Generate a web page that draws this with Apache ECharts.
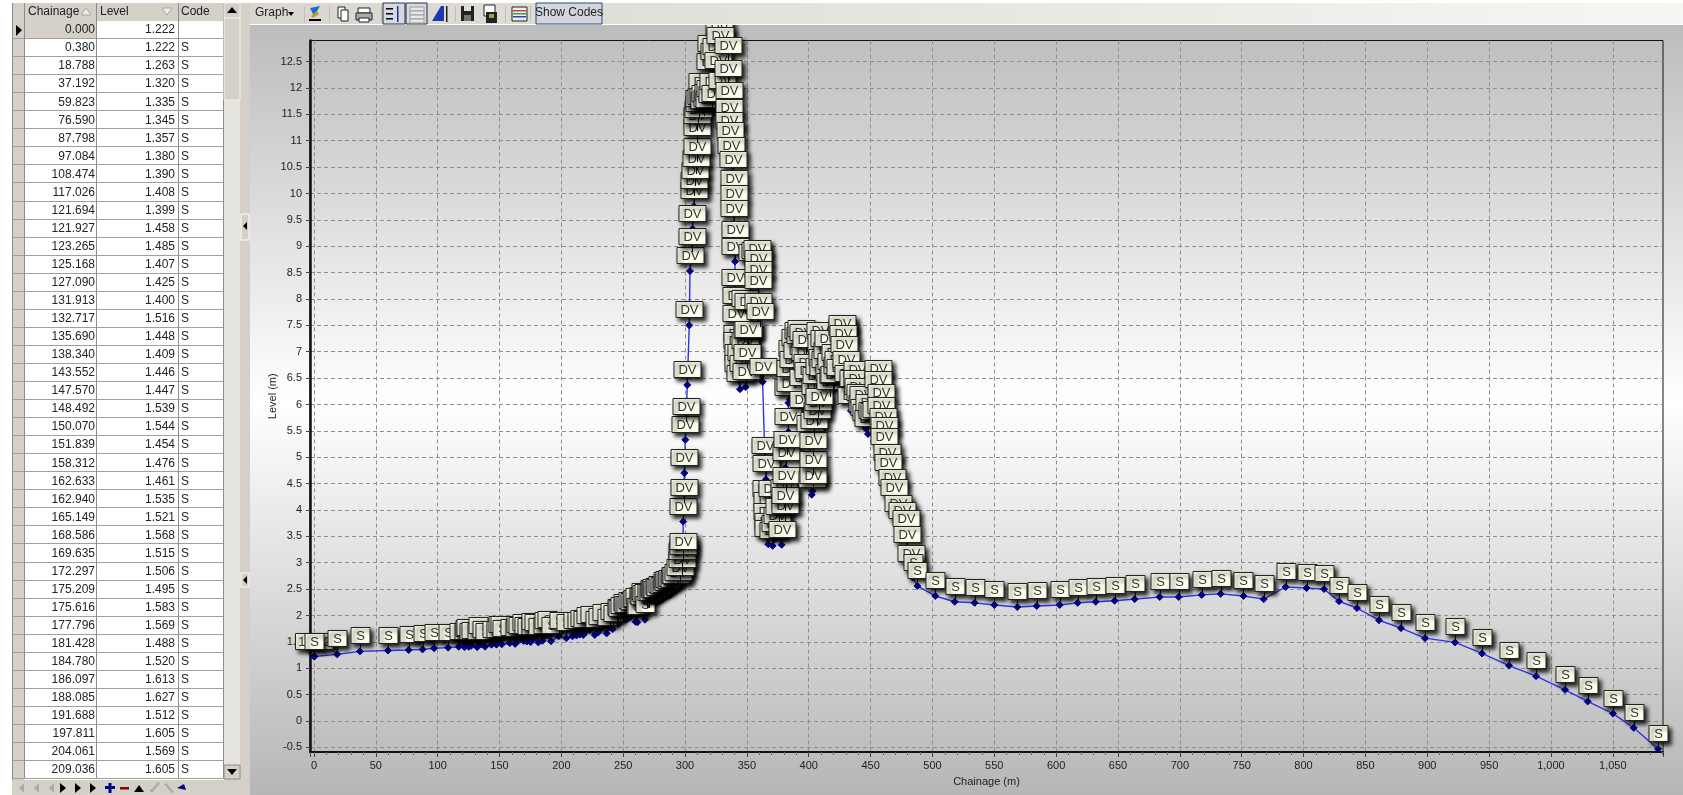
<!DOCTYPE html>
<html><head><meta charset="utf-8">
<script src="https://cdn.jsdelivr.net/npm/echarts@6/dist/echarts.min.js"></script>
<style>html,body{margin:0;padding:0;background:#fff;overflow:hidden}#c{width:1683px;height:795px}</style>
</head><body><div id="c"></div>
<script>
// ---- rows listed in the grid (first part of the survey, code S unless noted)
const tableChainage=[0,0.38,18.788,37.192,59.823,76.59,87.798,97.084,108.474,117.026,121.694,121.927,123.265,125.168,127.09,131.913,132.717,135.69,138.34,143.552,147.57,148.492,150.07,151.839,158.312,162.633,162.94,165.149,168.586,169.635,172.297,175.209,175.616,177.796,181.428,184.78,186.097,188.085,191.688,197.811,204.061,209.036];
const tableLevel=[1.222,1.222,1.263,1.32,1.335,1.345,1.357,1.38,1.39,1.408,1.399,1.458,1.485,1.407,1.425,1.4,1.516,1.448,1.409,1.446,1.447,1.539,1.544,1.454,1.476,1.461,1.535,1.521,1.568,1.515,1.506,1.495,1.583,1.569,1.488,1.52,1.613,1.627,1.512,1.605,1.569,1.605];
const tableCode=['','S','S','S','S','S','S','S','S','S','S','S','S','S','S','S','S','S','S','S','S','S','S','S','S','S','S','S','S','S','S','S','S','S','S','S','S','S','S','S','S','S'];
// ---- beyond the grid
const toeChainage=[212.3,215,217.7,219.8,223,227,229.9,232.5,236.6,239,241.5,244.7,246,247.5,249.8,251,252.5,254,255.5,257,258.2,259.5,260,261.5,262.5,263.6,264.5,265.5,266.5,267.6,268.9,270.8,271.5,272.5,273.5,274.3,275.5,276.6,278,279.7,281,282,283,284,285.2,286.5,287.5,289,290.5];
const toeLevel=[1.62,1.64,1.63,1.70,1.72,1.63,1.68,1.76,1.66,1.78,1.74,1.86,1.84,1.90,1.96,1.92,1.92,1.99,1.97,2.00,2.02,2.06,1.88,1.87,2.08,2.06,2.16,2.12,2.14,1.92,2.14,2.14,2.22,2.20,2.24,2.20,2.26,2.24,2.30,2.28,2.30,2.36,2.34,2.38,2.37,2.40,2.38,2.46,2.44];
const duneChainage=[292.3,294.5,296,297.2,297.8,298,298.3,298.5,299,299.4,300.2,300.8,301.8,303.4,304,305.3,306,307.2,307.5,308,308.6,309.4,310,310,310.5,311,311.5,312.5,313.5,314.5,315.5,316.5,317.5,318.5,319.5,320,320.5,321,321.5,322.8,323.5,324,325,327,327.4,328.2,329.5,334.6,335,335.2,335.8,335.8,336.3,337.2,338.5,339.6,339.6,339.7,340.4,340.4,340.6,340.8,341,341.7,342,342.6,343,344.4,345,347,348.5,348.5,349,349.9,350,351,351.1,353.9,356.5,358,359.2,359.2,359.2,359.2,360.6,362.7,364.6,365.4,365.8,366,366.4,366.8,367.3,370,370.8,372.5,374,375.8,378.1,379.9,380.8,380.8,381.3,381.3,382.4,383.5,383.5,384.9,385,386.2,387.5,388.9,390.2,391.4,393,393.7,395.6,395.6,395.6,397,397.8,398.3,399.5,401,402.4,403.2,403.7,403.7,404.5,405.2,406,406.5,407.8,408.3,408.5,409.1,410,410.5,411.5,412.5,413.5,414.5,415.2,416,417,418,419.5,420.4,421,422.6,424,425.4,426.6,427,428,428.5,430,432,434.1,436,438.8,438.8,440,441.4,442.8,444,445,446,447.9,449,451,452.5,454,456.2,456.2,458.1,458.7,459.8,460.6,461,463,464.3,467,469.2,472.4,475.1,478.4,479.7,482.4];
const duneLevel=[2.47,2.52,2.62,2.76,2.92,3.02,3.10,3.78,4.14,4.70,5.33,5.66,6.37,7.50,8.53,8.89,9.33,9.76,9.95,10.14,10.37,10.60,10.96,11.19,11.30,11.42,11.50,11.55,11.82,11.55,11.46,11.60,11.50,11.62,11.48,12.20,11.70,12.55,11.58,11.82,12.40,11.60,12.50,12.23,12.86,12.70,11.85,12.51,12.07,11.66,11.33,11.09,10.90,10.62,10.35,9.99,9.70,9.43,9.03,8.71,8.12,7.77,7.43,7.05,6.92,6.70,6.48,6.29,6.70,6.48,7.72,6.92,6.33,7.11,6.70,7.13,7.65,8.58,8.62,8.66,8.47,8.26,8.06,7.65,7.46,6.43,4.93,4.58,4.11,3.89,3.67,3.48,3.35,4.11,3.32,3.45,3.60,3.78,3.34,4.14,3.79,3.98,4.36,4.80,5.04,5.48,6.03,6.10,6.39,6.77,6.55,6.98,6.73,7.11,7.02,7.14,7.08,6.22,5.81,6.70,6.93,6.50,6.35,5.35,4.29,4.36,4.66,5.02,5.40,6.05,6.25,5.59,5.75,5.86,6.42,7.11,6.88,6.60,6.40,6.95,6.55,6.73,6.95,6.32,6.15,6.52,6.25,6.28,6.70,6.45,6.55,6.41,7.17,7.25,7.05,6.84,6.55,6.30,5.88,6.20,6.37,6.20,6.05,5.94,5.72,5.90,5.65,5.55,5.44,5.75,5.60,5.58,5.62,6.39,6.18,5.94,5.69,5.47,5.31,5.09,4.80,4.61,4.33,4.14,3.82,3.70,3.54,3.24,2.88];
const flatChainage=[484,487.8,502.3,518,534.1,550,568.6,584.3,602.9,617.4,632,647.3,663.5,683.7,699.1,717.7,733,751.4,767.8,785.6,802.5,816.6,828.7,843.2,861,878.8,898.2,922.5,944.3,966.1,988,1011.4,1029.7,1050.2,1066.9,1086.6];
const flatLevel=[2.72,2.56,2.37,2.26,2.24,2.20,2.16,2.18,2.20,2.24,2.26,2.28,2.31,2.35,2.35,2.39,2.41,2.37,2.31,2.54,2.52,2.50,2.27,2.14,1.91,1.76,1.57,1.49,1.28,1.05,0.85,0.59,0.37,0.14,-0.13,-0.53];
const gridHeaders=['Chainage','Level','Code'];
const toolbarLabels=['Graph','Show Codes'];

const pts=[];
tableChainage.forEach((x,i)=>pts.push([x,tableLevel[i],tableCode[i]||tableLevel[i].toFixed(3)]));
toeChainage.forEach((x,i)=>pts.push([x,toeLevel[i],'S']));
duneChainage.forEach((x,i)=>pts.push([x,duneLevel[i],'DV']));
flatChainage.forEach((x,i)=>pts.push([x,flatLevel[i],'S']));

const UI='"Liberation Sans",Arial,sans-serif';
const g=[];
const Z=100;
function R(x,y,w,h,fill,stroke,z){g.push({type:'rect',silent:true,z:z==null?Z:z,shape:{x,y,width:w,height:h},style:{fill:fill,stroke:stroke||null,lineWidth:1}});}
function T(x,y,t,o){o=o||{};g.push({type:'text',silent:true,z:Z+2,x,y,style:{text:t,fill:o.fill||'#222',font:(o.size||12)+'px '+UI,textAlign:o.align||'left',textVerticalAlign:'middle',align:o.align||'left',verticalAlign:'middle'}});}
function P(points,fill,z){g.push({type:'polygon',silent:true,z:z==null?Z+2:z,shape:{points},style:{fill}});}
// panel
g.push({type:'rect',silent:true,z:-10,shape:{x:250,y:24,width:1433,height:771},style:{fill:{type:'linear',x:0,y:0,x2:0,y2:1,colorStops:[{offset:0,color:'#bcbcbc'},{offset:.49,color:'#ffffff'},{offset:1,color:'#b6b6b6'}]}}});
// top and left chrome (covers labels overflowing the plot)
R(0,0,1683,3,'#ffffff');
g.push({type:'rect',silent:true,z:Z,shape:{x:250,y:3,width:1433,height:21},style:{fill:{type:'linear',x:0,y:0,x2:1,y2:0,colorStops:[{offset:0,color:'#d8d6ce'},{offset:1,color:'#f6f6f3'}]}}});
R(250,24,1433,1,'#ffffff');
R(0,0,250,795,'#ffffff',null,Z-1);
R(224,3,26,792,'#d4d0c8');
R(224,18,16,760,'#e6e4de');
// grid
R(12,3,212,777,'#ffffff');
R(12,3,212,18,'#d4d0c8');
R(12,21,12,759,'#d4d0c8');
R(24,21,72,18,'#d4d0c8');
const rowH=18.05,rowTop=21;
tableChainage.forEach((c,i)=>{
  const y=rowTop+(i+1)*rowH;
  R(12,Math.round(y)-1,212,1,'#a0a0a0');
  T(95,y-rowH/2,c.toFixed(3),{align:'right'});
  T(175,y-rowH/2,tableLevel[i].toFixed(3),{align:'right'});
  if(tableCode[i])T(181,y-rowH/2,tableCode[i]);
});
[24,96,178,223].forEach(x=>R(x,3,1,775,'#8c8c8c'));
R(12,3,1,777,'#8c8c8c');
T(28,12,gridHeaders[0]);T(100,12,gridHeaders[1]);T(181,12,gridHeaders[2]);
g.push({type:'polygon',silent:true,z:Z+2,shape:{points:[[86,8],[81,15],[91,15]]},style:{fill:'#eeece6',stroke:'#a8a6a0'}});
g.push({type:'polygon',silent:true,z:Z+2,shape:{points:[[167,15],[162,8],[172,8]]},style:{fill:'#eeece6',stroke:'#a8a6a0'}});
P([[16,25],[22,30],[16,36]],'#000');
// scrollbar
R(224,3,16,15,'#d4d0c8','#f2f0ec');
P([[232,7],[227,13],[237,13]],'#000');
R(224,18,16,82,'#d4d0c8','#f2f0ec');
R(224,765,16,14,'#d4d0c8','#888888');
P([[232,775],[227,769],[237,769]],'#000');
// splitter
R(241,214,8,26,'#d4d0c8','#ffffff');
P([[247,222],[243,226],[247,230]],'#000');
R(241,573,8,14,'#d4d0c8','#ffffff');
P([[247,576],[243,580],[247,584]],'#000');
// navigator
R(12,780,212,15,'#d4d0c8');
[[19,'#aaa'],[34,'#aaa'],[49,'#aaa']].forEach(a=>{P([[a[0]+5,783],[a[0],788],[a[0]+5,793]],a[1]);});
[[60,'#000'],[75,'#000'],[90,'#000']].forEach(a=>{P([[a[0],783],[a[0]+6,788],[a[0],793]],a[1]);});
R(105,786,10,3,'#000088');R(108.5,783,3,10,'#000088');
R(120,787,9,2.5,'#880000');
P([[134,792],[144,792],[139,785]],'#000');
P([[149,790],[152,793],[160,783],[158,782],[152,789]],'#aaa');
P([[164,784],[166,783],[174,792],[172,793]],'#aaa');
P([[177,788],[184,784],[186,790]],'#000088');
// toolbar
T(255,13,toolbarLabels[0]);P([[288,12],[294,12],[291,16]],'#000');
[304,329,381,455,505,530].forEach(x=>R(x,6,1,16,'#c0beb6'));
// icons
R(309,19,12,2,'#000');P([[310,8],[314,16],[320,6]],'#1a6cd0');P([[311,16],[317,11],[319,14],[313,18]],'#b8a020');
R(338,7,7,11,'#fff','#222');R(341,10,7,11,'#fff','#222');
R(358,8,12,5,'#fff','#222');R(356,13,16,7,'#aaa','#222');R(359,18,10,4,'#fff','#222');
R(383,3,22,21,'#d8d8e4','#234');R(406,3,21,21,'#d8d8e4','#234');
R(386,8,7,1.5,'#000');R(386,13,7,1.5,'#000');R(386,18,7,1.5,'#000');R(397,6,1.5,16,'#1a3a90');
[0,1,2,3].forEach(i=>R(410,7+i*4,14,4,'#e8e8e8','#9a9a9a'));
P([[432,21],[441,6],[444,6],[444,21]],'#1a3ab0');R(446,6,1.5,16,'#222');
R(461,6,13,15,'#222');R(464,6,7,5,'#ddd');R(464,15,7,6,'#777');
R(484,5,11,11,'#fff','#222');R(486,12,11,11,'#222');R(489,14,5,4,'#a8a040');
R(512,7,15,14,'#eee','#222');R(513,10,13,1.5,'#d04040');R(513,13,13,1.5,'#30a050');R(513,16,13,1.5,'#3040d0');
R(536,3,66,21,'#d5d5e0','#2a4a80');T(569,13,toolbarLabels[1],{align:'center'});

const chart=echarts.init(document.getElementById('c'),null,{width:1683,height:795});
const fnt='"Liberation Sans",Arial,sans-serif';
const dash={type:[4,3],color:'#8e8e8e',width:1};
chart.setOption({
  animation:false,
  backgroundColor:'#ffffff',
  textStyle:{fontFamily:fnt},
  grid:{left:310,right:20,top:40.5,bottom:43,show:true,borderColor:'#111',borderWidth:1,backgroundColor:'transparent'},
  xAxis:{type:'value',min:-3.2,max:1090.6,splitNumber:22,
    name:'Chainage (m)',nameLocation:'center',nameGap:24,nameMoveOverlap:false,nameTextStyle:{fontSize:11,color:'#222'},
    axisLine:{show:true,onZero:false,lineStyle:{color:'#111',width:2}},
    axisTick:{show:true,length:5,lineStyle:{color:'#444'}},
    minorTick:{show:true,splitNumber:5,length:3,lineStyle:{color:'#666'}},
    splitLine:{show:true,showMinLine:false,showMaxLine:false,lineStyle:dash},
    axisLabel:{fontSize:11,color:'#222',margin:8,showMinLabel:false,showMaxLabel:false}},
  yAxis:{type:'value',min:-0.588,max:12.9,splitNumber:27,
    name:'Level (m)',nameLocation:'center',nameGap:32,nameRotate:90,nameMoveOverlap:false,nameTextStyle:{fontSize:11,color:'#222'},
    axisLine:{show:true,onZero:false,lineStyle:{color:'#111',width:2.5}},
    axisTick:{show:true,length:4,lineStyle:{color:'#444'}},
    splitLine:{show:true,showMinLine:false,showMaxLine:false,lineStyle:dash},
    axisLabel:{fontSize:11,color:'#222',margin:8,showMinLabel:false,showMaxLabel:false}},
  graphic:{elements:g},
  series:[
    {type:'line',z:2,data:pts.map(p=>[p[0],p[1]]),symbol:'diamond',symbolSize:7,showSymbol:true,showAllSymbol:true,silent:true,clip:false,
     lineStyle:{color:'#3030ee',width:1.4},itemStyle:{color:'#000090',borderColor:'#000090'}},
    {type:'custom',z:3,clip:false,silent:true,progressive:0,data:pts,encode:{x:0,y:1},
     renderItem(params,api){
       const p=pts[params.dataIndex];
       const c=api.coord([p[0],p[1]]);
       const t=p[2],w=t==='S'?19:(t==='DV'?27:38),h=16;
       const cx=Math.round(c[0]),cy=Math.round(c[1]);
       const top=cy-24;
       return {type:'group',children:[
         {type:'line',shape:{x1:cx+.5,y1:cy,x2:cx+.5,y2:top+h},style:{stroke:'#111',lineWidth:1}},
         {type:'rect',shape:{x:cx-w/2+.5,y:top+.5,width:w,height:h},style:{fill:'#ffffee',stroke:'#222',lineWidth:1,shadowBlur:4,shadowColor:'rgba(0,0,0,0.85)',shadowOffsetX:3,shadowOffsetY:3}},
         {type:'text',x:cx+.5,y:top+h/2+1,style:{text:t,fill:'#333',font:'13px '+fnt,align:'center',verticalAlign:'middle'}}
       ]};
     }}
  ]
});
</script></body></html>
